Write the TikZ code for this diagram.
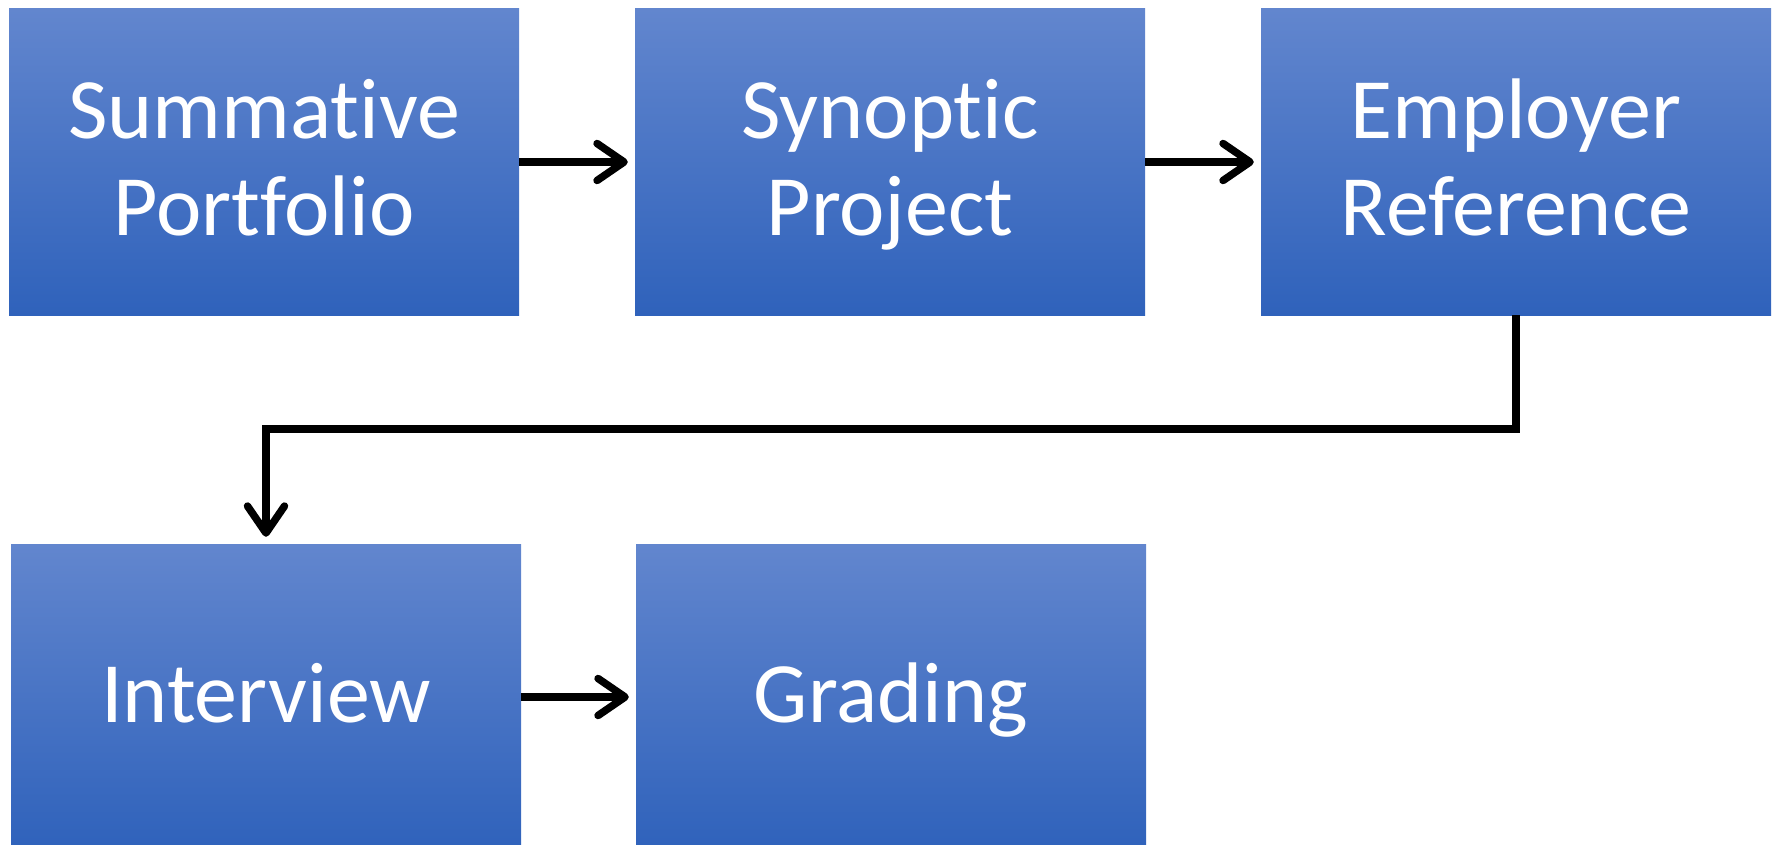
\documentclass[tikz,border=0pt]{standalone}
\usepackage{fontspec}
\setmainfont{Carlito}[Ligatures=NoCommon]
\usetikzlibrary{arrows.meta}

\definecolor{boxtop}{RGB}{98,134,206}
\definecolor{boxbot}{RGB}{47,98,187}

% struts that give every label the same vertical extent
\newcommand\capstrut{\rule{0pt}{70pt}}
\newcommand\descstrut{\rule[-20pt]{0pt}{20pt}}

\tikzset{
  stagebox/.style={rectangle, inner sep=0pt, draw=none,
    minimum width=510pt, minimum height=306pt,
    top color=boxtop, bottom color=boxbot,
    text=white, align=center,
    font=\fontsize{86}{97}\selectfont},
  flow/.style={line width=7.5pt, draw=black,
    -{Straight Barb[length=27pt, width=37pt, round]},
    shorten >=7pt}
}

\begin{document}
\begin{tikzpicture}[x=1pt, y=-1pt]
  \clip (0,0) rectangle (1775,845);
  \useasboundingbox (0,0) rectangle (1775,845);

  \node[stagebox] (s1) at (264,162) {\capstrut Summative\\Portfolio\descstrut};
  \node[stagebox] (s2) at (890,162) {\capstrut Synoptic\\Project\descstrut};
  \node[stagebox] (s3) at (1516,162) {\capstrut Employer\\Reference\descstrut};
  \node[stagebox] (s4) at (266,697) {\capstrut Interview\descstrut};
  \node[stagebox] (s5) at (891,697) {\capstrut Grading\descstrut};

  \coordinate (bend) at (1516,429);

  \draw[flow] (s1.east) -- (s2.west);
  \draw[flow] (s2.east) -- (s3.west);
  \draw[flow] (s3.south) -- (bend) -| (s4.north);
  \draw[flow] (s4.east) -- (s5.west);
\end{tikzpicture}
\end{document}
